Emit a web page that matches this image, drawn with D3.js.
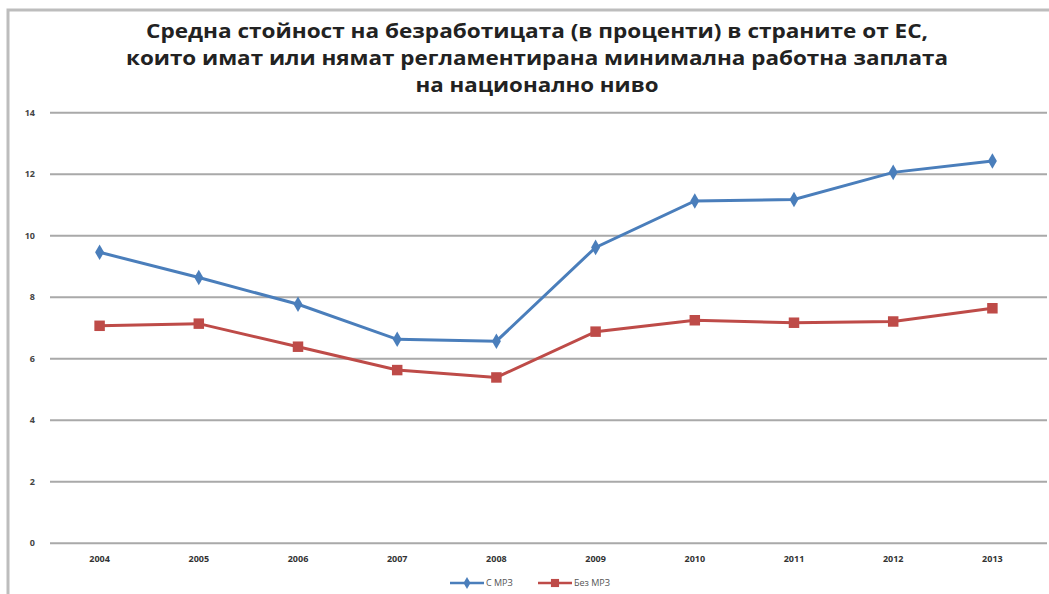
<!DOCTYPE html>
<html>
<head>
<meta charset="utf-8">
<script src="https://cdn.jsdelivr.net/npm/d3@7"></script>
<style>
  body { margin: 0; background: #fff; }
  svg { display: block; }
</style>
</head>
<body>
<svg id="chart" width="1049" height="594"></svg>
<script>
const years = ["2004", "2005", "2006", "2007", "2008", "2009", "2010", "2011", "2012", "2013"];
const withMw = [9.46, 8.64, 7.77, 6.63, 6.57, 9.62, 11.13, 11.18, 12.06, 12.43];
const withoutMw = [7.07, 7.14, 6.39, 5.63, 5.39, 6.88, 7.25, 7.17, 7.21, 7.64];
const yTicks = [0, 2, 4, 6, 8, 10, 12, 14];
const titleLines = [
  "Средна стойност на безработицата (в проценти) в страните от ЕС,",
  "които имат или нямат регламентирана минимална работна заплата",
  "на национално ниво"
];
const seriesNames = ["С МРЗ", "Без МРЗ"];

const svg = d3.select("#chart");
const font = "'Open Sans', 'DejaVu Sans', sans-serif";

// frame of the pasted chart
svg.append("path")
  .attr("d", "M8,594 V10 H1049")
  .attr("fill", "none")
  .attr("stroke", "#bdbdbd")
  .attr("stroke-width", 3);

// title, stretched a bit to the width of the original
const titleWidths = [782, 822, 243];
svg.append("g")
  .selectAll("text")
  .data(titleLines)
  .join("text")
  .attr("x", 537)
  .attr("y", (d, i) => 38 + i * 27)
  .attr("text-anchor", "middle")
  .attr("font-family", font)
  .attr("font-weight", "bold")
  .attr("font-size", 19)
  .attr("fill", "#222")
  .attr("textLength", (d, i) => titleWidths[i])
  .attr("lengthAdjust", "spacingAndGlyphs")
  .text((d) => d);

const x = d3.scaleBand().domain(years).range([50, 1042]);
const y = d3.scaleLinear().domain([0, 14]).range([543.2, 112.7]);

// gridlines
svg.append("g")
  .selectAll("line")
  .data(yTicks)
  .join("line")
  .attr("x1", 50)
  .attr("x2", 1047)
  .attr("y1", (d) => y(d))
  .attr("y2", (d) => y(d))
  .attr("stroke", "#a9a9a9")
  .attr("stroke-width", 2);

// y labels
svg.append("g")
  .selectAll("text")
  .data(yTicks)
  .join("text")
  .attr("x", 35)
  .attr("y", (d) => y(d) + 3)
  .attr("text-anchor", "end")
  .attr("font-family", font)
  .attr("font-weight", "bold")
  .attr("font-size", 9)
  .attr("fill", "#444")
  .text((d) => d);

// x labels
svg.append("g")
  .selectAll("text")
  .data(years)
  .join("text")
  .attr("x", (d) => x(d) + x.bandwidth() / 2)
  .attr("y", 562)
  .attr("text-anchor", "middle")
  .attr("font-family", font)
  .attr("font-weight", "bold")
  .attr("font-size", 9)
  .attr("fill", "#333")
  .text((d) => d);

const cx = (i) => x(years[i]) + x.bandwidth() / 2;
const line = d3.line().x((d, i) => cx(i)).y((d) => y(d));

const series = [
  { name: seriesNames[0], values: withMw, color: "#4a7ebb", shape: d3.symbolDiamond, size: 70 },
  { name: seriesNames[1], values: withoutMw, color: "#be4b48", shape: d3.symbolSquare, size: 110 }
];

series.forEach((s) => {
  svg.append("path")
    .datum(s.values)
    .attr("fill", "none")
    .attr("stroke", s.color)
    .attr("stroke-width", 3)
    .attr("d", line);
  svg.append("g")
    .selectAll("path")
    .data(s.values)
    .join("path")
    .attr("transform", (d, i) => `translate(${cx(i)},${y(d)})`)
    .attr("d", d3.symbol().type(s.shape).size(s.size))
    .attr("fill", s.color);
});

// legend
const legendX = [450, 538];
const legend = svg.append("g")
  .selectAll("g")
  .data(series)
  .join("g")
  .attr("transform", (d, i) => `translate(${legendX[i]},583)`);
legend.append("line")
  .attr("x1", 0).attr("x2", 34)
  .attr("stroke", (d) => d.color)
  .attr("stroke-width", 2.5);
legend.append("path")
  .attr("transform", "translate(17,0)")
  .attr("d", (d) => d3.symbol().type(d.shape).size(d.size * 0.6)())
  .attr("fill", (d) => d.color);
legend.append("text")
  .attr("x", 36)
  .attr("y", 3)
  .attr("font-family", font)
  .attr("font-size", 9)
  .attr("fill", "#555")
  .text((d) => d.name);
</script>
</body>
</html>
